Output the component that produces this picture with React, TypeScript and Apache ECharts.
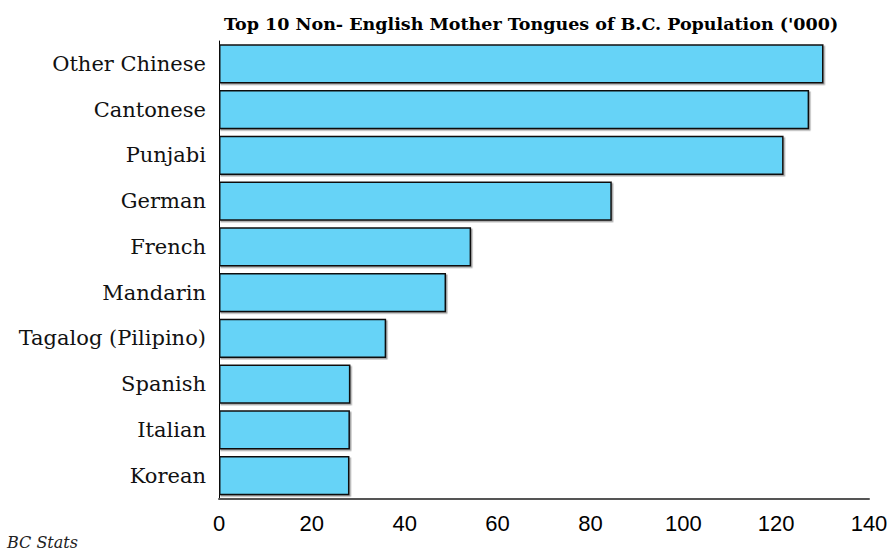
import React, { useEffect, useRef } from "react";
import * as echarts from "echarts";

const categories = [
  "Other Chinese",
  "Cantonese",
  "Punjabi",
  "German",
  "French",
  "Mandarin",
  "Tagalog (Pilipino)",
  "Spanish",
  "Italian",
  "Korean",
];
const values = [130.2, 127.1, 121.6, 84.6, 54.3, 48.9, 36.0, 28.3, 28.2, 28.1];
const xTicks = [0, 20, 40, 60, 80, 100, 120, 140];
const titleText = "Top 10 Non- English Mother Tongues of B.C. Population ('000)";
const sourceText = "BC Stats";

export default function App() {
  const ref = useRef<HTMLDivElement>(null);
  useEffect(() => {
    const chart = echarts.init(ref.current!, null, { renderer: "svg" });
    chart.setOption({
      animation: false,
      backgroundColor: "#ffffff",
      title: {
        text: titleText,
        left: 219,
        top: 10,
        textStyle: {
          fontFamily: "DejaVu Serif",
          fontWeight: "bold",
          fontSize: 17.5,
          color: "#000",
        },
      },
      graphic: [
        {
          type: "text",
          left: 7,
          top: 534,
          style: {
            text: sourceText,
            font: "italic 16px 'DejaVu Serif'",
            fill: "#222",
          },
        },
      ],
      grid: { left: 219, right: 22, top: 41, bottom: 54.5 },
      xAxis: {
        type: "value",
        min: xTicks[0],
        max: xTicks[xTicks.length - 1],
        interval: 20,
        splitLine: { show: false },
        axisLine: { show: true, lineStyle: { color: "#555", width: 2 } },
        axisTick: { show: false },
        axisLabel: {
          fontFamily: "Liberation Sans",
          fontSize: 22,
          color: "#000",
          margin: 14,
        },
      },
      yAxis: {
        type: "category",
        inverse: true,
        data: categories,
        axisLine: { show: true, lineStyle: { color: "#000", width: 1 } },
        axisTick: { show: false },
        axisLabel: {
          fontFamily: "DejaVu Serif",
          fontSize: 21,
          color: "#111",
          margin: 13,
        },
      },
      series: [
        {
          type: "bar",
          data: values,
          barCategoryGap: "14.4%",
          itemStyle: {
            color: "#66d3f7",
            borderColor: "#111",
            borderWidth: 1.5,
            shadowColor: "rgba(0,0,0,0.35)",
            shadowOffsetX: 1.5,
            shadowOffsetY: 1.5,
            shadowBlur: 0,
          },
        },
      ],
    });
    return () => chart.dispose();
  }, []);
  return (
    <div
      ref={ref}
      style={{ position: "absolute", left: 0, top: 0, width: 891, height: 553 }}
    />
  );
}
